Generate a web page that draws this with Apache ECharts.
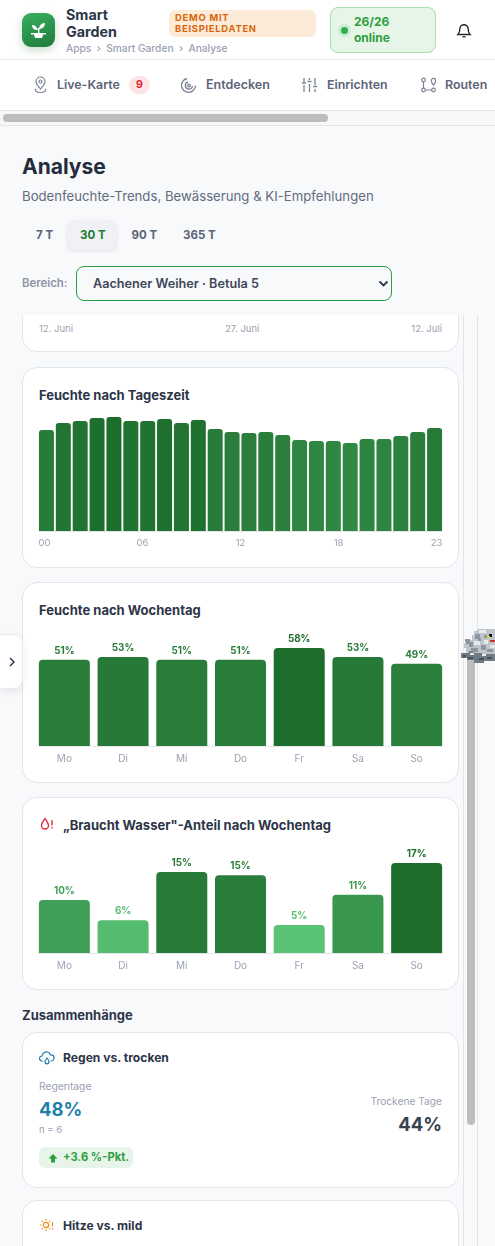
<!DOCTYPE html>
<html lang="de"><head><meta charset="utf-8"><title>Smart Garden – Analyse</title>
<script src="https://cdn.jsdelivr.net/npm/echarts@6/dist/echarts.min.js"></script>
<style>
*{box-sizing:border-box}
html,body{margin:0;padding:0;width:495px;height:1246px;overflow:hidden;background:#f8f9fb;font-family:Inter,"Noto Sans",sans-serif;color:#2d3548}
.a{position:absolute;white-space:nowrap;line-height:1}
.m{transform:translateY(-50%)}
.card{position:absolute;left:22px;width:437px;background:#fff;border:1px solid #e2e5ec;border-radius:15px}
.chart{position:absolute;left:22px;width:437px}
.rule{position:absolute;left:39px;width:403px;height:1px;background:#e2e5ec}
svg{position:absolute;display:block}
.t{font-weight:700;font-size:13px;color:#2d3548}
.s{font-weight:700;font-size:12.1px;color:#2d3548}
</style></head><body>
<div class="a" style="left:0;top:0;width:495px;height:60px;background:#fff;border-bottom:1px solid #e3e5e9"></div>
<div class="a" style="left:0;top:60px;width:495px;height:51px;background:#fff;border-bottom:1px solid #e3e5e9"></div>
<div class="a" style="left:0;top:111px;width:495px;height:15px;background:#f7f7f7;border-bottom:1px solid #e3e5e9"></div>
<div class="a" style="left:3px;top:114px;width:325px;height:8px;border-radius:4px;background:#bdbdbd"></div>

<div class="a" style="left:22px;top:13px;width:33px;height:34px;border-radius:9px;background:linear-gradient(160deg,#38b061,#1f7a3a);box-shadow:0 3px 8px rgba(30,120,60,.25)"></div>
<svg style="left:29px;top:21px" width="19" height="18" viewBox="0 0 19 18" fill="#fff"><path d="M9 9C8 6 6 4 3 4c0 3 2 5 6 5zM10 8c0-3 2-6 6-6 0 3-2 6-6 6z"/><rect x="9" y="7" width="1.4" height="6"/><path d="M2 12h15v1.500H14L13 17H6L5 13.500H2z"/></svg>
<div class="a m" style="left:66px;top:15px;font-size:14.300px;font-weight:700">Smart</div>
<div class="a m" style="left:66px;top:32px;font-size:14.300px;font-weight:700">Garden</div>
<div class="a m" style="left:66px;top:47.500px;font-size:10.200px;font-weight:500;color:#9aa1b2">Apps&nbsp; ›&nbsp; Smart Garden&nbsp; ›&nbsp; Analyse</div>
<div class="a" style="left:169px;top:10px;width:147px;height:27px;background:#fcebd8;border-radius:6px"></div>
<div class="a m" style="left:175px;top:18px;font-size:9.400px;font-weight:700;letter-spacing:.75px;color:#d9660a">DEMO MIT</div>
<div class="a m" style="left:175px;top:29px;font-size:9.400px;font-weight:700;letter-spacing:.75px;color:#d9660a">BEISPIELDATEN</div>
<div class="a" style="left:330px;top:7px;width:106px;height:46px;background:#e6f5e8;border:1px solid #a8e0ae;border-radius:8px"></div>
<div class="a" style="left:338px;top:24px;width:13px;height:13px;border-radius:50%;background:#cdebd2"></div>
<div class="a" style="left:341px;top:27px;width:7px;height:7px;border-radius:50%;background:#2fb14a"></div>
<div class="a m" style="left:354px;top:22px;font-size:12px;font-weight:700;color:#2e9e3e">26/26</div>
<div class="a m" style="left:354px;top:38px;font-size:12px;font-weight:700;color:#2e9e3e">online</div>
<svg style="left:456px;top:22px" width="16" height="17" viewBox="0 0 16 17" fill="none" stroke="#1f2937" stroke-width="1.4"><path d="M2 12.500h12c-1.500-1.500-1.800-3-1.800-5.500a4.200 4.200 0 0 0-8.400 0c0 2.500-.3 4-1.800 5.500z"/><path d="M6.500 14.800h3"/></svg>

<svg style="left:33px;top:76px" width="15" height="18" viewBox="0 0 15 18" fill="none" stroke="#7a8294" stroke-width="1.200"><path d="M7.500 13C5 10 3 8 3 5.500a4.500 4.500 0 0 1 9 0C12 8 10 10 7.500 13z"/><circle cx="7.500" cy="5.500" r="1.500"/><path d="M3 13c-2 2 1 3.500 4.500 3.500S14 15 12 13"/></svg>
<div class="a m" style="left:57px;top:85px;font-size:12.400px;font-weight:600;color:#5b6478">Live-Karte</div>
<div class="a" style="left:129px;top:76px;width:21px;height:18px;border-radius:9px;background:#fde3e5"></div>
<div class="a m" style="left:136px;top:85px;font-size:10.500px;font-weight:700;color:#e11d2e">9</div>
<svg style="left:181px;top:77px" width="16" height="16" viewBox="0 0 16 16" fill="none" stroke="#7a8294" stroke-width="1.300"><path d="M6 1.500a7 7 0 1 0 8.500 7"/><path d="M7 5a3.600 3.600 0 1 0 4.500 4"/><circle cx="8" cy="8.500" r="1.300"/></svg>
<div class="a m" style="left:206px;top:85px;font-size:12.500px;font-weight:600;color:#5b6478">Entdecken</div>
<svg style="left:302px;top:77px" width="15" height="16" viewBox="0 0 15 16" fill="none" stroke="#7a8294" stroke-width="1.300"><path d="M2 1v4M2 8v7M7.500 1v2M7.500 7v8M13 1v7M13 12v3M0 6h4M5.500 4.500h4M11 9.500h4"/></svg>
<div class="a m" style="left:327px;top:85px;font-size:12.400px;font-weight:600;color:#5b6478">Einrichten</div>
<svg style="left:421px;top:77px" width="15" height="16" viewBox="0 0 15 16" fill="none" stroke="#7a8294" stroke-width="1.200"><circle cx="2.500" cy="3" r="1.800"/><circle cx="2.500" cy="13" r="1.800"/><circle cx="12.500" cy="13" r="1.800"/><path d="M12.500 8c-1.500-1.800-2.300-3-2.300-4.300a2.300 2.300 0 0 1 4.600 0C14.800 5 14 6.200 12.500 8zM2.500 5v6M4.500 13h6"/></svg>
<div class="a m" style="left:445px;top:85px;font-size:12.400px;font-weight:600;color:#5b6478">Routen</div>

<div class="a m" style="left:22px;top:165.500px;font-size:21px;font-weight:700;color:#242c3d">Analyse</div>
<div class="a m" style="left:22px;top:196.500px;font-size:13.200px;color:#636b80">Bodenfeuchte-Trends, Bewässerung &amp; KI-Empfehlungen</div>
<div class="a" style="left:67px;top:220px;width:50px;height:30px;border-radius:7px;background:#f0f1f4;box-shadow:0 1px 3px rgba(0,0,0,.1)"></div>
<div class="a m" style="left:36px;top:235.500px;font-size:11.500px;font-weight:700;color:#5b6478">7 T</div>
<div class="a m" style="left:80px;top:235.500px;font-size:11.500px;font-weight:700;color:#217a35">30 T</div>
<div class="a m" style="left:131.500px;top:235.500px;font-size:11.500px;font-weight:700;color:#5b6478">90 T</div>
<div class="a m" style="left:183px;top:235.500px;font-size:11.500px;font-weight:700;color:#5b6478">365 T</div>
<div class="a m" style="left:22px;top:284px;font-size:11.400px;font-weight:600;color:#8d94a6">Bereich:</div>
<div class="a" style="left:76px;top:266px;width:316px;height:35px;border:1px solid #2e9e3e;border-radius:8px;background:#f8f9fb"></div>
<div class="a m" style="left:93px;top:284px;font-size:12.650px;font-weight:600;color:#3f4759">Aachener Weiher · Betula 5</div>
<svg style="left:378px;top:280px" width="11" height="8" viewBox="0 0 11 8" fill="none" stroke="#2d3548" stroke-width="1.800"><path d="M1.500 1.500 5.500 5.500 9.500 1.500"/></svg>

<div class="a" style="left:463px;top:315px;width:1px;height:931px;background:#e3e5e9"></div>
<div class="a" style="left:477px;top:315px;width:1px;height:931px;background:#e3e5e9"></div>
<div class="a" style="left:467px;top:655px;width:8px;height:470px;border-radius:4px;background:#bdbdbd"></div>

<div style="position:absolute;left:0;top:315px;width:463px;height:38px;overflow:hidden"><div class="card" style="top:-40px;height:77px"></div></div>
<div class="a m" style="left:39px;top:328.500px;font-size:9.500px;color:#9aa1b2">12. Juni</div>
<div class="a m" style="left:225px;top:328.500px;font-size:9.500px;color:#9aa1b2">27. Juni</div>
<div class="a m" style="right:53px;top:328.500px;font-size:9.500px;color:#9aa1b2">12. Juli</div>

<div class="card" style="top:367px;height:201px"></div>
<div class="card" style="top:582px;height:201px"></div>
<div class="card" style="top:797px;height:193px"></div>
<div class="a m t" style="left:39px;top:394.500px">Feuchte nach Tageszeit</div>
<div class="a m t" style="left:39px;top:609.500px">Feuchte nach Wochentag</div>
<svg style="left:40px;top:817px" width="14" height="14" viewBox="0 0 14 14" fill="none" stroke="#e11d2e" stroke-width="1.300"><path d="M5 1.500C3 4.500 1.500 6 1.500 8.500a3.500 3.500 0 0 0 7 0C8.500 6 7 4.500 5 1.500zM12 3v5.500M12 10v1.500"/></svg>
<div class="a m t" style="left:63px;top:824.500px">„Braucht Wasser"-Anteil nach Wochentag</div>

<div class="rule" style="top:531px"></div>
<div class="rule" style="top:746px"></div>
<div class="rule" style="top:953px"></div>
<div id="hourChart" class="chart" style="top:400px;height:155px"></div>
<div id="moistChart" class="chart" style="top:625px;height:150px"></div>
<div id="waterChart" class="chart" style="top:835px;height:150px"></div>

<div class="a m" style="left:22px;top:1014.500px;font-size:13px;font-weight:700;color:#2d3548">Zusammenhänge</div>
<div class="card" style="top:1032px;height:156px"></div>
<div class="card" style="top:1200px;height:80px"></div>
<svg style="left:39px;top:1050px" width="16" height="16" viewBox="0 0 16 16" fill="none" stroke="#1f7fa8" stroke-width="1.200"><path d="M4 11H3a2.500 2.500 0 0 1 0-5c.5-3 3-4.500 5.500-4 1.500.3 2.500 1.500 3 3a3 3 0 0 1 1 6h-1"/><path d="M8 8c-1 1.500-2 2.400-2 3.800a2 2 0 0 0 4 0C10 10.400 9 9.500 8 8z"/></svg>
<div class="a m s" style="left:63px;top:1058px">Regen vs. trocken</div>
<div class="a m" style="left:39px;top:1085.500px;font-size:10.300px;color:#9aa1b2">Regentage</div>
<div class="a m" style="left:39px;top:1108.500px;font-size:18.500px;font-weight:700;color:#1f7fa8">48%</div>
<div class="a m" style="left:39px;top:1129.500px;font-size:9.500px;color:#9aa1b2">n = 6</div>
<div class="a" style="left:39px;top:1147px;width:94px;height:21px;border-radius:6px;background:#e6f4e9"></div>
<svg style="left:48px;top:1153px" width="10" height="10" viewBox="0 0 10 10" fill="#2e9e3e"><path d="M5 1 9.500 5.500H7V9.500H3V5.500H.5z"/></svg>
<div class="a m" style="left:63px;top:1157.500px;font-size:11.200px;font-weight:700;color:#2e9e3e">+3.6 %-Pkt.</div>
<div class="a m" style="right:53px;top:1100.500px;font-size:10.200px;color:#9aa1b2">Trockene Tage</div>
<div class="a m" style="right:53px;top:1123.500px;font-size:18.500px;font-weight:700;color:#374151">44%</div>
<svg style="left:40px;top:1218px" width="14" height="14" viewBox="0 0 14 14" fill="none" stroke="#ef8c1a" stroke-width="1.200"><circle cx="6" cy="7" r="2.600"/><path d="M6 1v1.500M6 11.500V13M0 7h1.500M1.800 2.800l1 1M10.200 2.800l-1 1M1.800 11.200l1-1M10.200 11.200l-1-1M12.500 4v4.500M12.500 10v1.500"/></svg>
<div class="a m s" style="left:63px;top:1225.500px">Hitze vs. mild</div>

<div class="a" style="left:0;top:634px;width:23px;height:55px;background:#fff;border:1px solid #e8eaef;border-left:0;border-radius:0 9px 9px 0;box-shadow:0 3px 8px rgba(0,0,0,.08)"></div>
<svg style="left:9px;top:657px" width="6" height="10" viewBox="0 0 6 10" fill="none" stroke="#2d3548" stroke-width="1.500"><path d="M1 1l4 4-4 4"/></svg>

<svg style="left:460px;top:626px" width="35" height="38" viewBox="0 0 35 38" shape-rendering="crispEdges">
<path fill="#bfc5cb" d="M14 5h3V3h18v25H22v2H10v-3H6v-5H4v-5h5v-3h3V9h2z"/>
<path fill="#6f7a83" d="M1 27h8v-2h5v2h8v1h13v7H24v2H14v-3H7v-2H1z"/>
<path fill="#8b96a0" d="M5 13h5v3h3v5H9v-3H6zM15 8h5v5h-5zM21 19h5v5h-5zM11 22h7v4h-7zM27 23h6v3h-6zM18 12h3v3h-3zM24 9h3v3h-3z"/>
<path fill="#e6eaed" d="M19 4h7v3h-7zM14 15h6v4h-6zM24 14h4v4h-4zM30 19h5v3h-5zM10 27h4v2h-4zM22 28h4v2h-4z"/>
<path fill="#111" d="M29 8h3v3h-3zM31 15h4v1h-4z"/>
<path fill="#d9d23a" d="M27 10h3v2h-3z"/>
<path fill="#c5302b" d="M30 14h5v2h-5z"/>
<path fill="#454f57" d="M8 31h5v2H8zM19 32h5v2h-5zM27 31h5v2h-5zM3 29h3v2H3z"/>
</svg>

<script>
const hourLabels = ["00","01","02","03","04","05","06","07","08","09","10","11","12","13","14","15","16","17","18","19","20","21","22","23"];
const hourTicks = ["00","06","12","18","23"];
const hourValues = [50.5,54,55,56.5,57,55,55,56,54,55.5,51,49.5,49,49.5,48,45.5,45,45,44,46,46,47.5,49.5,51.5];
const weekdays = ["Mo","Di","Mi","Do","Fr","Sa","So"];
const moistureValues = [51,52.7,51,51,58,52.7,48.6];
const waterValues = [10,6.2,15.3,14.7,5.3,11,17];

const stops = [[.29,[91,196,117]],[.36,[84,188,111]],[.59,[64,160,90]],[.64,[59,152,79]],[.77,[48,138,68]],[.84,[44,128,61]],[.9,[40,122,56]],[1,[30,110,43]]];
function shade(v,max){
  const r=v/max;
  for(let i=1;i<stops.length;i++){
    if(r<=stops[i][0]){
      const a=stops[i-1],b=stops[i],k=Math.max(0,(r-a[0])/(b[0]-a[0]));
      return 'rgb('+a[1].map((c,j)=>Math.round(c+(b[1][j]-c)*k)).join(',')+')';
    }
  }
  return 'rgb(30,110,43)';
}
const FONT='Inter, "Noto Sans", sans-serif';
const hourMax=Math.max(...hourValues);
echarts.init(document.getElementById('hourChart')).setOption({
  animation:false,
  grid:[{left:16,width:405,top:17,height:114},{left:22.5,width:392,top:17,height:114}],
  xAxis:[
    {type:'category',data:hourLabels,gridIndex:0,axisLine:{show:false},axisTick:{show:false},axisLabel:{show:false}},
    {type:'category',data:hourTicks,gridIndex:1,boundaryGap:false,axisLine:{show:false},axisTick:{show:false},
     axisLabel:{interval:0,margin:7,fontSize:9.5,color:'#9aa1b2',fontFamily:FONT}}
  ],
  yAxis:[{type:'value',min:0,max:57,gridIndex:0,show:false},{type:'value',min:0,max:1,gridIndex:1,show:false}],
  series:[{type:'bar',barWidth:15,xAxisIndex:0,yAxisIndex:0,
    data:hourValues.map(v=>({value:v,itemStyle:{color:shade(v,hourMax),borderRadius:[3,3,0,0]}}))}]
});
function weekChart(id,values,yMax,height,bottom){
  const max=Math.max(...values);
  echarts.init(document.getElementById(id)).setOption({
    animation:false,
    grid:{left:13,width:411,bottom:bottom,height:height},
    xAxis:{type:'category',data:weekdays,axisLine:{show:false},axisTick:{show:false},
      axisLabel:{interval:0,margin:8,fontSize:10,color:'#9aa1b2',fontFamily:FONT}},
    yAxis:{type:'value',min:0,max:yMax,show:false},
    series:[{type:'bar',barWidth:51,
      label:{show:true,position:'top',distance:4,fontSize:9.8,fontWeight:700,fontFamily:FONT,
        formatter:p=>Math.round(p.value)+'%',color:'inherit'},
      data:values.map(v=>{const c=shade(v,max);return {value:v,itemStyle:{color:c,borderRadius:[4,4,0,0]},label:{color:c}};})}]
  });
}
weekChart('moistChart',moistureValues,60,101.4,29);
weekChart('waterChart',waterValues,18,95.3,32);
</script>
</body></html>
